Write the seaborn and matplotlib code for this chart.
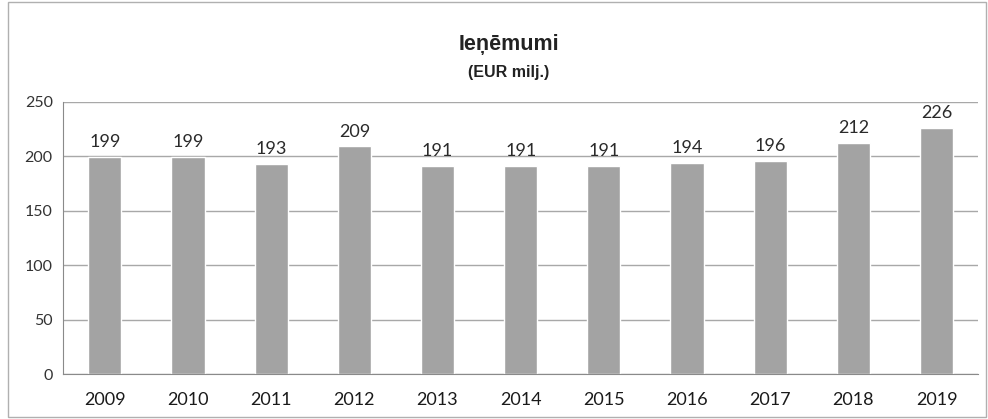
import matplotlib
matplotlib.use("Agg")
import matplotlib.pyplot as plt
import seaborn as sns
import pandas as pd
from matplotlib.patches import Rectangle

years = ["2009", "2010", "2011", "2012", "2013", "2014", "2015", "2016", "2017", "2018", "2019"]
values = [199, 199, 193, 209, 191, 191, 191, 194, 196, 212, 226]

df = pd.DataFrame({"year": years, "value": values})

sns.set_style("white")
plt.rcParams["font.family"] = ["Lato", "DejaVu Sans"]

fig = plt.figure(figsize=(9.88, 4.19), dpi=100)
ax = fig.add_axes([0.064, 0.107, 0.926, 0.65])

sns.barplot(data=df, x="year", y="value", color="#a3a3a3", saturation=1, width=0.4, ax=ax)
ax.bar_label(ax.containers[0], labels=[str(v) for v in values], padding=5, fontsize=13, color="#2a2a2a")

ax.set_ylim(0, 250)
ax.set_yticks([0, 50, 100, 150, 200, 250])
ax.set_xlim(-0.5, len(years) - 0.5)
ax.yaxis.grid(True, color="#a8a8a8", linewidth=1)
ax.set_axisbelow(True)
ax.set_xlabel("")
ax.set_ylabel("")
for s in ["top", "right"]:
    ax.spines[s].set_visible(False)
ax.spines["left"].set_color("#8a8a8a")
ax.spines["bottom"].set_color("#8a8a8a")

ax.set_xticks(range(len(years)))
ax.set_xticklabels(years)
ax.set_xticks([i - 0.5 for i in range(len(years) + 1)], minor=True)
ax.tick_params(axis="x", which="major", length=0, labelsize=13, pad=13, colors="#1a1a1a")
ax.tick_params(axis="x", which="minor", length=5, direction="inout", color="#8a8a8a")
ax.tick_params(axis="y", length=4, direction="out", color="#8a8a8a", labelsize=11.5)
ax.tick_params(axis="y", labelcolor="#333333")

fig.text(0.515, 0.893, "Ieņēmumi", ha="center", va="center", fontsize=15.5, fontweight="bold",
         family=["Liberation Sans", "DejaVu Sans"], color="#222222")
fig.text(0.515, 0.828, "(EUR milj.)", ha="center", va="center", fontsize=11.5, fontweight="bold",
         family=["Liberation Sans", "DejaVu Sans"], color="#222222")

fig.patches.append(Rectangle((0.008, 0.005), 0.99, 0.99, transform=fig.transFigure,
                             fill=False, edgecolor="#b0b0b0", linewidth=1))

fig.savefig("out.png", dpi=100)
